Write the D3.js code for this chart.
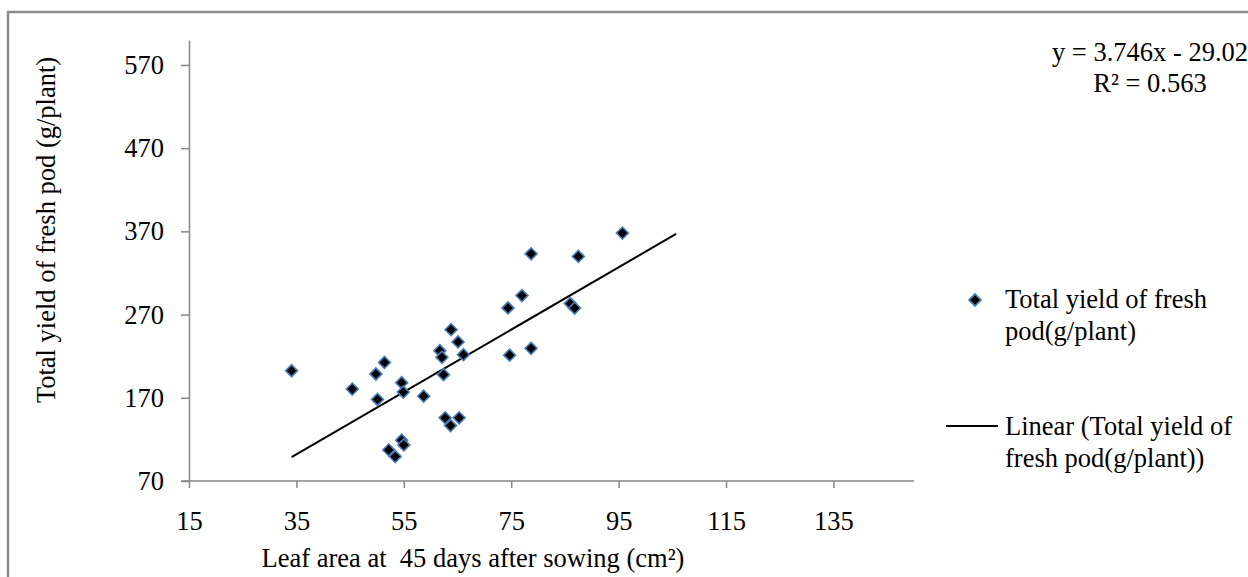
<!DOCTYPE html>
<html>
<head>
<meta charset="utf-8">
<script src="https://cdn.jsdelivr.net/npm/d3@7"></script>
<style>
body { margin: 0; background: #fff; }
text { font-family: "Liberation Serif", "Times New Roman", serif; font-size: 26.5px; fill: #000; white-space: pre; }
</style>
</head>
<body>
<div class="canvas"></div>
<script>
// leaf area (cm²) and yield (g/plant)
const leafArea = [34.1, 45.4, 49.8, 51.4, 50.1, 54.6, 54.9, 58.7, 54.6, 55.0,
    52.2, 53.4, 63.8, 65.1, 61.7, 62.1, 66.1, 62.4, 62.7, 65.3,
    63.7, 74.7, 78.7, 78.7, 87.5, 77.0, 74.4, 86.0, 86.8, 95.7]
const podYield = [202.5, 180.5, 198.6, 212.5, 168, 188.1, 176.9, 172, 119, 113.4,
    107.3, 99.3, 251.9, 237.1, 226.6, 218.6, 221.8, 197.7, 145.9, 145.9,
    136.6, 221.2, 229.4, 343.1, 339.9, 292.9, 278, 283.3, 277.8, 368]

const xTicks = [15, 35, 55, 75, 95, 115, 135]
const yTicks = [70, 170, 270, 370, 470, 570]

// trendline y = 3.746x - 29.02, drawn over this x range
const trendCoef = [3.746, -29.02]
const trendRange = [34.1, 105.7]

const seriesName = ["Total yield of fresh", "pod(g/plant)"]
const trendName = ["Linear (Total yield of", "fresh pod(g/plant))"]
const equation = ["y = 3.746x - 29.02", "R² = 0.563"]

const svg = d3.select(".canvas").append("svg")
    .attr("width", 1248)
    .attr("height", 577)

// outer frame
svg.append("rect")
    .attr("x", 8)
    .attr("y", 12)
    .attr("width", 1300)
    .attr("height", 620)
    .attr("fill", "none")
    .attr("stroke", "#8c8c8c")
    .attr("stroke-width", 2.5)

const margin = { top: 40, left: 189 }
const graphWidth = 725
const graphHeight = 441

const graph = svg.append("g")
    .attr("transform", `translate(${margin.left}, ${margin.top})`)

const x = d3.scaleLinear().domain([15, 150]).range([0, graphWidth])
const y = d3.scaleLinear().domain([70, 600]).range([graphHeight, 0])

const xAxis = d3.axisBottom(x).tickValues(xTicks).tickSize(7).tickSizeOuter(0).tickPadding(23)
const yAxis = d3.axisLeft(y).tickValues(yTicks).tickSize(8).tickSizeOuter(0).tickPadding(17)

const xAxisGroup = graph.append("g")
    .attr("transform", `translate(0, ${graphHeight})`)
    .call(xAxis)
const yAxisGroup = graph.append("g").call(yAxis)

// excel-like look
graph.selectAll(".domain, .tick line")
    .attr("stroke", "#868686")
    .attr("stroke-width", 1.5)
graph.selectAll(".tick text")
    .style("font-size", "26.5px")
    .attr("font-family", null)
xAxisGroup.select(".domain").attr("d", `M-8,0H${graphWidth}`)

// trendline
const line = d3.line()
    .x(d => x(d))
    .y(d => y(trendCoef[0] * d + trendCoef[1]))
graph.append("path")
    .datum(trendRange)
    .attr("d", line)
    .attr("fill", "none")
    .attr("stroke", "#000")
    .attr("stroke-width", 2)

// points
const diamond = d3.symbol().type(d3.symbolSquare).size(72)
graph.selectAll(".pt")
    .data(leafArea)
    .enter()
    .append("path")
    .attr("class", "pt")
    .attr("d", diamond)
    .attr("transform", (d, i) => `translate(${x(d)}, ${y(podYield[i])}) rotate(45)`)
    .attr("fill", "#000")
    .attr("stroke", "#4a7ebb")
    .attr("stroke-width", 1.6)

// axis titles
svg.append("text")
    .attr("x", 473)
    .attr("y", 567)
    .attr("text-anchor", "middle")
    .text("Leaf area at  45 days after sowing (cm²)")

svg.append("text")
    .attr("transform", "translate(55, 230) rotate(-90)")
    .attr("text-anchor", "middle")
    .text("Total yield of fresh pod (g/plant)")

// equation
svg.selectAll(".eq")
    .data(equation)
    .enter()
    .append("text")
    .attr("class", "eq")
    .attr("x", 1150)
    .attr("y", (d, i) => 61 + i * 31)
    .attr("text-anchor", "middle")
    .text(d => d)

// legend
const legend = svg.append("g")
legend.append("path")
    .attr("d", diamond)
    .attr("transform", "translate(975, 300) rotate(45)")
    .attr("fill", "#000")
    .attr("stroke", "#4a7ebb")
    .attr("stroke-width", 1.6)
legend.selectAll(".s1")
    .data(seriesName)
    .enter()
    .append("text")
    .attr("x", 1005)
    .attr("y", (d, i) => 308 + i * 31.5)
    .text(d => d)

legend.append("line")
    .attr("x1", 946)
    .attr("x2", 998)
    .attr("y1", 426)
    .attr("y2", 426)
    .attr("stroke", "#000")
    .attr("stroke-width", 2)
legend.selectAll(".s2")
    .data(trendName)
    .enter()
    .append("text")
    .attr("x", 1005)
    .attr("y", (d, i) => 435 + i * 31.5)
    .text(d => d)
</script>
</body>
</html>
